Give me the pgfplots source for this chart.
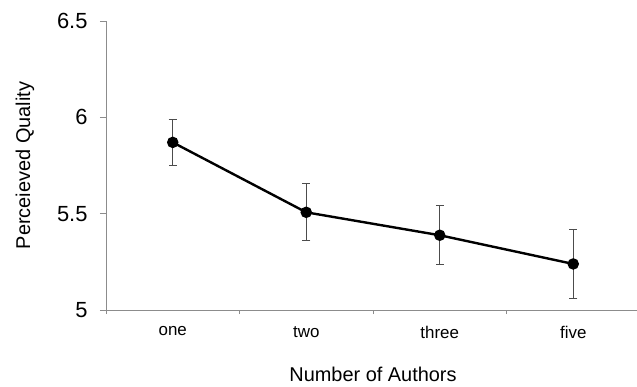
\documentclass[border=0pt]{standalone}
\usepackage{pgfplots}
\pgfplotsset{compat=1.18}
\usepackage{fontspec}
\setmainfont{Liberation Sans}
\begin{document}
\begin{tikzpicture}[x=1bp,y=1bp]
\useasboundingbox (-106bp,-77bp) rectangle (531bp,310bp);
\begin{axis}[
  at={(0,0)}, anchor=south west,
  scale only axis,
  width=534bp, height=289bp,
  xmin=-0.5, xmax=3.5,
  ymin=5, ymax=6.5,
  axis x line=bottom, axis y line=left,
  axis line style={-, color=black!45, line width=0.8bp},
  xtick={0,1,2,3},
  xticklabels={one,two,three,five},
  minor xtick={-0.5,0.5,1.5,2.5,3.5},
  ytick={5,5.5,6,6.5},
  yticklabels={5,5.5,6,6.5},
  tick align=outside,
  tick style={color=black!45, line width=0.8bp},
  major tick length=6bp,
  minor tick length=4bp,
  major x tick style={draw=none},
  /pgf/number format/assume math mode=true,
  xticklabel style={font=\fontsize{17}{17}\selectfont, yshift=-7bp},
  yticklabel style={font=\fontsize{22}{22}\selectfont, xshift=-9bp},
  xlabel={Number of Authors},
  ylabel={Perceieved Quality},
  label style={font=\fontsize{20}{20}\selectfont},
  xlabel style={yshift=-21bp},
  ylabel style={yshift=16bp},
  clip=false,
]
\addplot[black, line width=2.4bp, mark=*, mark size=4.5bp,
  error bars/.cd, y dir=both, y explicit,
  error bar style={color=black!70, line width=1bp},
  error mark options={rotate=90, mark size=4bp, color=black!70, line width=1bp}]
  table[x=x, y=y, y error=e] {
x y e
0 5.870 0.120
1 5.507 0.148
2 5.388 0.152
3 5.239 0.179
};
\end{axis}
\end{tikzpicture}
\end{document}
